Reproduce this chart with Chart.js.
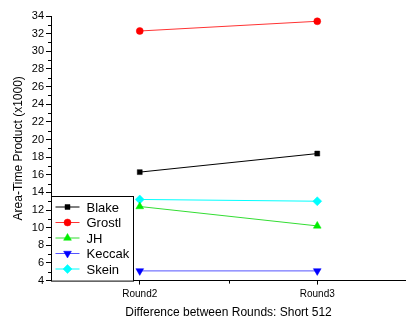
<!DOCTYPE html>
<html>
<head>
<meta charset="utf-8">
<script src="https://cdn.jsdelivr.net/npm/chart.js@4"></script>
<style>
  html, body { margin: 0; padding: 0; background: #fff; }
  #wrap { width: 406px; height: 323px; }
</style>
</head>
<body>
<div id="wrap"><canvas id="chart" width="406" height="323"></canvas></div>
<script>
// chart values
const rounds = ["Round2", "Round3"];
const blake = [16.3, 18.4];
const grostl = [32.3, 33.4];
const jh = [12.4, 10.2];
const keccak = [5.1, 5.1];
const skein = [13.2, 13.0];
const yMin = 4, yMax = 34;

const FONT = "'Liberation Sans', Arial, sans-serif";

// minor ticks + legend box inside the plot, drawn on top
const extras = {
  id: "extras",
  afterDraw(chart) {
    const c = chart.ctx;
    const y = chart.scales.y, x = chart.scales.x;
    const area = chart.chartArea;
    c.save();
    c.strokeStyle = "#000";
    c.lineWidth = 1;
    // y minor ticks
    for (let v = yMin + 1; v < yMax; v += 2) {
      const py = Math.round(y.getPixelForValue(v)) + 0.5;
      c.beginPath(); c.moveTo(area.left - 3, py); c.lineTo(area.left, py); c.stroke();
    }
    // x minor tick between rounds
    const mx = Math.round((x.getPixelForValue(0) + x.getPixelForValue(1)) / 2) + 0.5;
    c.beginPath(); c.moveTo(mx, area.bottom); c.lineTo(mx, area.bottom + 3); c.stroke();

    // legend
    const bx = area.left + 0.5, by = 196.5, bw = 82, bh = area.bottom - 196;
    c.fillStyle = "#fff";
    c.fillRect(bx, by, bw, bh);
    c.strokeStyle = "#000";
    c.strokeRect(bx, by, bw, bh);
    chart.data.datasets.forEach((ds, i) => {
      const ly = 207 + i * 15.5;
      c.strokeStyle = ds.borderColor;
      c.lineWidth = 1;
      c.beginPath(); c.moveTo(bx + 4, ly); c.lineTo(bx + 28, ly); c.stroke();
      c.fillStyle = ds.pointBackgroundColor;
      c.strokeStyle = ds.pointBackgroundColor;
      c.lineWidth = 0.5;
      Chart.helpers.drawPoint(c, {
        pointStyle: ds.pointStyle, radius: ds.pointRadius, rotation: ds.rotation || 0,
        borderWidth: 0.5
      }, bx + 16, ly);
      c.fillStyle = "#000";
      c.font = "13px " + FONT;
      c.textBaseline = "middle";
      c.fillText(ds.label, bx + 35, ly + 1);
    });
    c.restore();
  }
};

function series(label, data, line, fill, style, radius, rotation) {
  return {
    label, data,
    borderColor: line, borderWidth: 1,
    pointBackgroundColor: fill, pointBorderColor: fill, pointBorderWidth: 0.5,
    pointStyle: style, pointRadius: radius, rotation: rotation || 0,
    tension: 0
  };
}

new Chart(document.getElementById("chart"), {
  type: "line",
  data: {
    labels: rounds,
    datasets: [
      series("Blake", blake, "#000000", "#000000", "rect", 3.5),
      series("Grostl", grostl, "#ff3333", "#ff0000", "circle", 3.5),
      series("JH", jh, "#33dd33", "#00ee00", "triangle", 4.5),
      series("Keccak", keccak, "#5555ff", "#0000ff", "triangle", 4.5, 180),
      series("Skein", skein, "#00ffff", "#00ffff", "rectRot", 4.5)
    ]
  },
  options: {
    responsive: false,
    animation: false,
    layout: { autoPadding: false, padding: { top: 16, right: 0, bottom: 0, left: 0 } },
    plugins: { legend: { display: false }, tooltip: { enabled: false } },
    scales: {
      x: {
        type: "category",
        offset: true,
        border: { color: "#000", width: 1 },
        grid: { drawOnChartArea: false, tickLength: 4, tickColor: "#000" },
        ticks: { color: "#000", font: { family: FONT, size: 10 }, padding: 4, maxRotation: 0 },
        title: {
          display: true, text: "Difference between Rounds: Short 512",
          color: "#000", font: { family: FONT, size: 12 }, padding: { top: 1, bottom: 3 }
        },
        afterFit(scale) { scale.paddingLeft = 0; scale.paddingRight = 0; }
      },
      y: {
        min: yMin, max: yMax,
        border: { color: "#000", width: 1 },
        grid: { drawOnChartArea: false, tickLength: 5, tickColor: "#000" },
        ticks: { stepSize: 2, color: "#000", font: { family: FONT, size: 11 }, padding: 2 },
        title: {
          display: true, text: "Area-Time Product (x1000)",
          color: "#000", font: { family: FONT, size: 12 }, padding: { top: 11, bottom: 0 }
        },
        afterFit(scale) { scale.width = 51; }
      }
    }
  },
  plugins: [extras]
});
</script>
</body>
</html>
